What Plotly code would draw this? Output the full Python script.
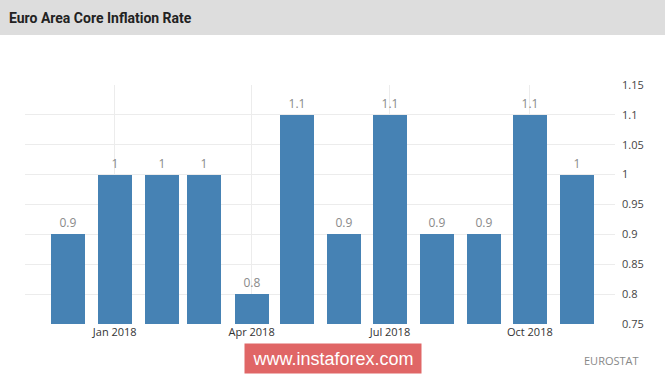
import plotly.graph_objects as go

months = ["2017-12-01", "2018-01-01", "2018-02-01", "2018-03-01", "2018-04-01", "2018-05-01",
          "2018-06-01", "2018-07-01", "2018-08-01", "2018-09-01", "2018-10-01", "2018-11-01"]
values = [0.9, 1.0, 1.0, 1.0, 0.8, 1.1, 0.9, 1.1, 0.9, 0.9, 1.1, 1.0]
value_labels = ["0.9", "1", "1", "1", "0.8", "1.1", "0.9", "1.1", "0.9", "0.9", "1.1", "1"]
x_tick_vals = ["2018-01-01", "2018-04-01", "2018-07-01", "2018-10-01"]
x_tick_text = ["Jan 2018", "Apr 2018", "Jul 2018", "Oct 2018"]
y_tick_vals = [0.75, 0.8, 0.85, 0.9, 0.95, 1.0, 1.05, 1.1, 1.15]
y_tick_text = ["0.75", "0.8", "0.85", "0.9", "0.95", "1", "1.05", "1.1", "1.15"]

DAY_MS = 86400000
PLOT_TOP, PLOT_BOTTOM, PLOT_LEFT, PLOT_RIGHT = 85, 324, 25, 615
PH = PLOT_BOTTOM - PLOT_TOP
PW = PLOT_RIGHT - PLOT_LEFT


def py(pixel_y):
    return (PLOT_BOTTOM - pixel_y) / PH


def px(pixel_x):
    return (pixel_x - PLOT_LEFT) / PW


fig = go.Figure()
fig.add_trace(go.Bar(
    x=months, y=values,
    width=[22.4 * DAY_MS] * len(months),
    marker=dict(color="#4682B4", line=dict(width=0)),
    text=value_labels, textposition="outside",
    textfont=dict(color="#8a8a8a", size=12, family="Open Sans, DejaVu Sans, sans-serif"),
    cliponaxis=False,
    hoverinfo="skip",
))

fig.update_layout(
    width=665, height=375,
    margin=dict(l=PLOT_LEFT, r=665 - PLOT_RIGHT, t=PLOT_TOP, b=375 - PLOT_BOTTOM),
    paper_bgcolor="white", plot_bgcolor="white",
    showlegend=False,
    bargap=0,
    xaxis=dict(
        type="date",
        range=["2017-11-03", "2018-11-26"],
        tickvals=x_tick_vals, ticktext=x_tick_text,
        showgrid=True, gridcolor="#ececec", gridwidth=1,
        showline=False, zeroline=False, ticks="",
        tickfont=dict(color="#333333", size=11, family="Open Sans, DejaVu Sans, sans-serif"),
    ),
    yaxis=dict(
        side="right",
        range=[0.75, 1.15],
        tickvals=y_tick_vals, ticktext=y_tick_text,
        showgrid=True, gridcolor="#ececec", gridwidth=1,
        showline=False, zeroline=False, ticks="",
        ticklabelstandoff=6,
        tickfont=dict(color="#444444", size=11, family="Open Sans, DejaVu Sans, sans-serif"),
    ),
    shapes=[
        dict(type="rect", xref="paper", yref="paper", x0=px(-5), x1=px(670), y0=py(35), y1=py(-5),
             fillcolor="#dddddd", line=dict(width=0), layer="below"),
    ],
    annotations=[
        dict(text="<b>Euro Area Core Inflation Rate</b>", xref="paper", yref="paper",
             x=px(7), y=py(18), xanchor="left", yanchor="middle",
             showarrow=False,
             font=dict(size=14, color="#222222", family="Roboto, Liberation Sans, sans-serif")),
        dict(text="www.instaforex.com", xref="paper", yref="paper",
             x=px(333), y=py(358), xanchor="center", yanchor="middle",
             showarrow=False, bgcolor="#e06666", width=176, height=29, borderpad=0,
             font=dict(size=18, color="white", family="Liberation Sans, Arial, sans-serif")),
        dict(text="EUROSTAT", xref="paper", yref="paper",
             x=px(611), y=py(360), xanchor="center", yanchor="middle",
             showarrow=False,
             font=dict(size=11, color="#888888", family="Open Sans, DejaVu Sans, sans-serif")),
    ],
)

fig.write_html("out.html", config={"displayModeBar": False},
               post_script="document.body.style.margin='0';")
